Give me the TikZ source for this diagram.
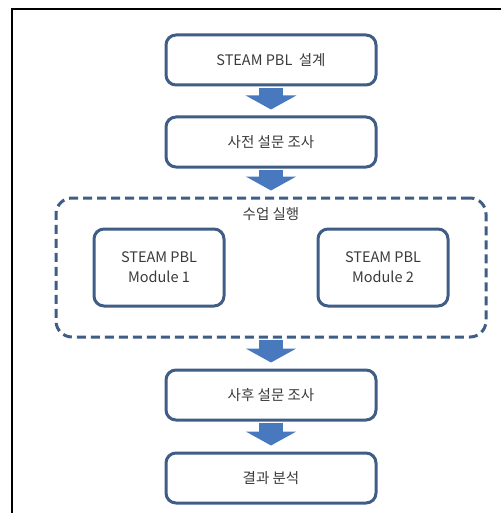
\documentclass[tikz,border=0pt]{standalone}
\usepackage{fontspec}
\setmainfont{Noto Sans CJK KR}
\usetikzlibrary{positioning, arrows.meta}

\definecolor{edge}{HTML}{3F5D85}
\definecolor{flow}{HTML}{4878BE}
\definecolor{ink}{HTML}{3A3A3A}

\tikzstyle{block} = [draw=edge, line width=3pt, rounded corners=10pt, fill=white, text=ink, minimum width=210pt, minimum height=50pt]
\tikzstyle{module} = [block, minimum width=130pt, minimum height=77pt, align=center]
\tikzstyle{group} = [draw=edge, line width=3pt, dash pattern=on 9pt off 5pt, rounded corners=16pt, minimum width=430pt, minimum height=139pt]
\tikzstyle{flowarrow} = [draw=flow, line width=24pt, -{Triangle[width=50pt, length=14pt]}, shorten <=1.5pt, shorten >=6pt]

\begin{document}
\begin{tikzpicture}[x=1pt, y=-1pt, node distance=29pt, font=\fontsize{14.5}{20}\selectfont]
\useasboundingbox (0,0) rectangle (501,513);
% frame
\draw[line width=2pt] (11.5,513) -- (11.5,9.5) -- (501,9.5);

\node [block] (design) at (271,60) {STEAM PBL~~설계};
\node [block, below=of design] (pre) {사전 설문 조사};
\node [group, below=28pt of pre] (class) {};
\node [text=ink, below=7pt of class.north] (classlabel) {수업 실행};
\node [module, right=38pt of class.west] (mod1) {STEAM PBL\\Module 1};
\node [module, left=38pt of class.east] (mod2) {STEAM PBL\\Module 2};
\node [block, below=30pt of class] (post) {사후 설문 조사};
\node [block, below=30pt of post] (result) {결과 분석};

\draw [flowarrow] (design) -- (pre);
\draw [flowarrow] (pre) -- (class);
\draw [flowarrow] (class) -- (post);
\draw [flowarrow] (post) -- (result);
\end{tikzpicture}
\end{document}
